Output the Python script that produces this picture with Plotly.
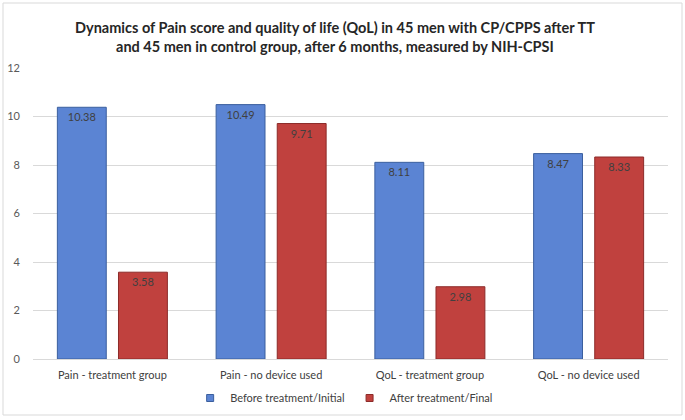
import plotly.graph_objects as go

categories = ["Pain - treatment group", "Pain - no device used", "QoL - treatment group", "QoL - no device used"]
before_vals = [10.38, 10.49, 8.11, 8.47]
after_vals = [3.58, 9.71, 2.98, 8.33]
series_names = ["Before treatment/Initial", "After treatment/Final"]
y_ticks = [0, 2, 4, 6, 8, 10, 12]
colors = ["#5b84d3", "#c0413e"]
edges = ["#3b5f9e", "#8c2b29"]

W, H = 685, 420
ml, mr, mt, mb = 33, 17, 68, 61

fig = go.Figure()
for name, vals, c, e in zip(series_names, [before_vals, after_vals], colors, edges):
    fig.add_trace(go.Bar(
        x=categories, y=vals, name=name, showlegend=False,
        marker=dict(color=c, line=dict(color=e, width=1)),
        text=[f"{v:.2f}" for v in vals], textposition="inside", insidetextanchor="end",
        textfont=dict(color="#404040", size=11, family="Lato"),
    ))
for name, c, e in zip(series_names, colors, edges):
    fig.add_trace(go.Scatter(
        x=[None], y=[None], mode="markers", name=name,
        marker=dict(symbol="square", size=7, color=c, line=dict(color=e, width=1)),
    ))

pw = W - ml - mr
ph = H - mt - mb
fig.add_shape(type="rect", xref="paper", yref="paper",
              x0=-(ml - 3) / pw, x1=1 + (mr - 3) / pw,
              y0=-(mb - 5) / ph, y1=1 + (mt - 3) / ph,
              line=dict(color="#d9d9d9", width=1), layer="below")

fig.update_layout(
    width=W, height=H,
    margin=dict(l=ml, r=mr, t=mt, b=mb, autoexpand=False),
    paper_bgcolor="white", plot_bgcolor="white",
    barmode="group", bargap=0.23, bargroupgap=0.2,
    font=dict(family="Lato", color="#404040"),
    title=dict(
        text="<b>Dynamics of Pain score and quality of life (QoL) in 45 men with CP/CPPS after TT<br>and 45 men in control group, after 6 months, measured by NIH-CPSI</b>",
        x=0.489, xanchor="center", y=0.922, yanchor="top",
        font=dict(family="Lato", size=14.5, color="#262626"),
    ),
    xaxis=dict(showline=True, linecolor="#d9d9d9", ticks="", automargin=False,
               tickfont=dict(size=11, color="#404040"), ticklabelstandoff=6),
    yaxis=dict(range=[0, 12], tickvals=y_ticks, showgrid=True, gridcolor="#d9d9d9",
               zeroline=False, automargin=False,
               tickfont=dict(size=11, color="#595959"), ticklabelstandoff=12),
    legend=dict(orientation="h", x=0.49, xanchor="center",
                yref="container", y=1 - 398 / H, yanchor="middle",
                bgcolor="rgba(0,0,0,0)",
                font=dict(size=11, color="#404040"), itemwidth=30, tracegroupgap=0),
)

fig.write_html("out.html", config={"displayModeBar": False},
               post_script="document.body.style.margin='0px';")
